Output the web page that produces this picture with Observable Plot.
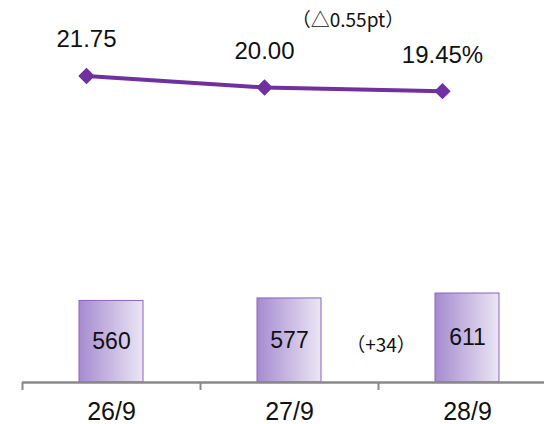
<!DOCTYPE html>
<html>
<head>
<meta charset="utf-8">
<script src="https://cdn.jsdelivr.net/npm/d3@7"></script>
<script src="https://cdn.jsdelivr.net/npm/@observablehq/plot@0.6"></script>
<style>
  html, body { margin: 0; padding: 0; background: #fff; }
  #chart { position: relative; width: 544px; height: 424px; overflow: hidden; }
  #chart svg { position: absolute; left: 0; top: 0; }
</style>
</head>
<body>
<div id="chart"></div>
<script>
// Data
const periods = ["26/9", "27/9", "28/9"];
const counts = [560, 577, 611];
const rates = [21.75, 20.00, 19.45];
const rateLabels = ["21.75", "20.00", "19.45%"];
const countDiffLabel = "（+34）";
const rateDiffLabel = "（△0.55pt）";

const barData = periods.map((p, i) => ({period: p, value: counts[i]}));
const lineData = periods.map((p, i) => ({period: p, rate: rates[i], label: rateLabels[i]}));

const numFont = "'Liberation Sans', Arial, sans-serif";
const cjkFont = "'Noto Sans CJK JP', 'Liberation Sans', sans-serif";
const purple = "#7030A0";

function gradientDefs() {
  const ns = "http://www.w3.org/2000/svg";
  const defs = document.createElementNS(ns, "defs");
  const g = document.createElementNS(ns, "linearGradient");
  g.setAttribute("id", "barGrad");
  g.setAttribute("x1", "0"); g.setAttribute("x2", "1");
  g.setAttribute("y1", "0"); g.setAttribute("y2", "0");
  [["0%", "#a68bd0"], ["100%", "#ebe6f4"]].forEach(([o, c]) => {
    const s = document.createElementNS(ns, "stop");
    s.setAttribute("offset", o); s.setAttribute("stop-color", c);
    g.appendChild(s);
  });
  defs.appendChild(g);
  return defs;
}

const bars = Plot.plot({
  width: 544, height: 424,
  marginLeft: 22, marginRight: 0, marginTop: 0, marginBottom: 42,
  style: {background: "transparent"},
  x: {type: "band", domain: periods, range: [22, 556], padding: 0, label: null},
  y: {domain: [0, 611], range: [382, 293], axis: null},
  marks: [
    gradientDefs,
    Plot.barY(barData, {x: "period", y: "value", fill: "url(#barGrad)", stroke: "#8b62bf", strokeWidth: 1, insetLeft: 57, insetRight: 57}),
    Plot.text(barData, {x: "period", y: d => d.value / 2, text: d => String(d.value), fontSize: 23, fontFamily: numFont, fill: "#111", lineAnchor: "middle"}),
    Plot.text([countDiffLabel], {x: () => "27/9", y: () => counts[1] / 2, text: d => d, dx: 91.5, dy: 5.5, fontSize: 19, fontFamily: cjkFont, fill: "#111", lineAnchor: "middle"}),
    Plot.ruleY([0], {stroke: "#898989", strokeWidth: 2.5}),
    Plot.axisX({tickSize: 8, tickFormat: () => "", dx: -89, stroke: "#898989", strokeWidth: 2, fontSize: 1, label: null}),
    Plot.axisX({tickSize: 0, tickPadding: 20, fontSize: 25, fontFamily: numFont, fill: "#111", label: null})
  ]
});

const line = Plot.plot({
  width: 544, height: 424,
  margin: 0,
  style: {background: "transparent"},
  x: {type: "point", domain: periods, range: [22, 556], padding: 0.5, axis: null},
  y: {domain: [19, 22], range: [93.6, 73.8], axis: null},
  marks: [
    Plot.line(lineData, {x: "period", y: "rate", stroke: purple, strokeWidth: 4, dx: -25}),
    Plot.dot(lineData, {x: "period", y: "rate", symbol: "diamond2", r: 7.4, fill: purple, dx: -25}),
    Plot.text(lineData, {x: "period", y: "rate", text: "label", dx: -25, dy: -28.5, lineAnchor: "bottom", fontSize: 24, fontFamily: numFont, fill: "#111"}),
    Plot.text([rateDiffLabel], {x: () => "27/9", frameAnchor: "top", text: d => d, dx: 58.5, dy: 20.5, fontSize: 19, fontFamily: cjkFont, fill: "#111", lineAnchor: "middle"})
  ]
});

const chart = document.getElementById("chart");
chart.appendChild(bars);
chart.appendChild(line);
</script>
</body>
</html>
